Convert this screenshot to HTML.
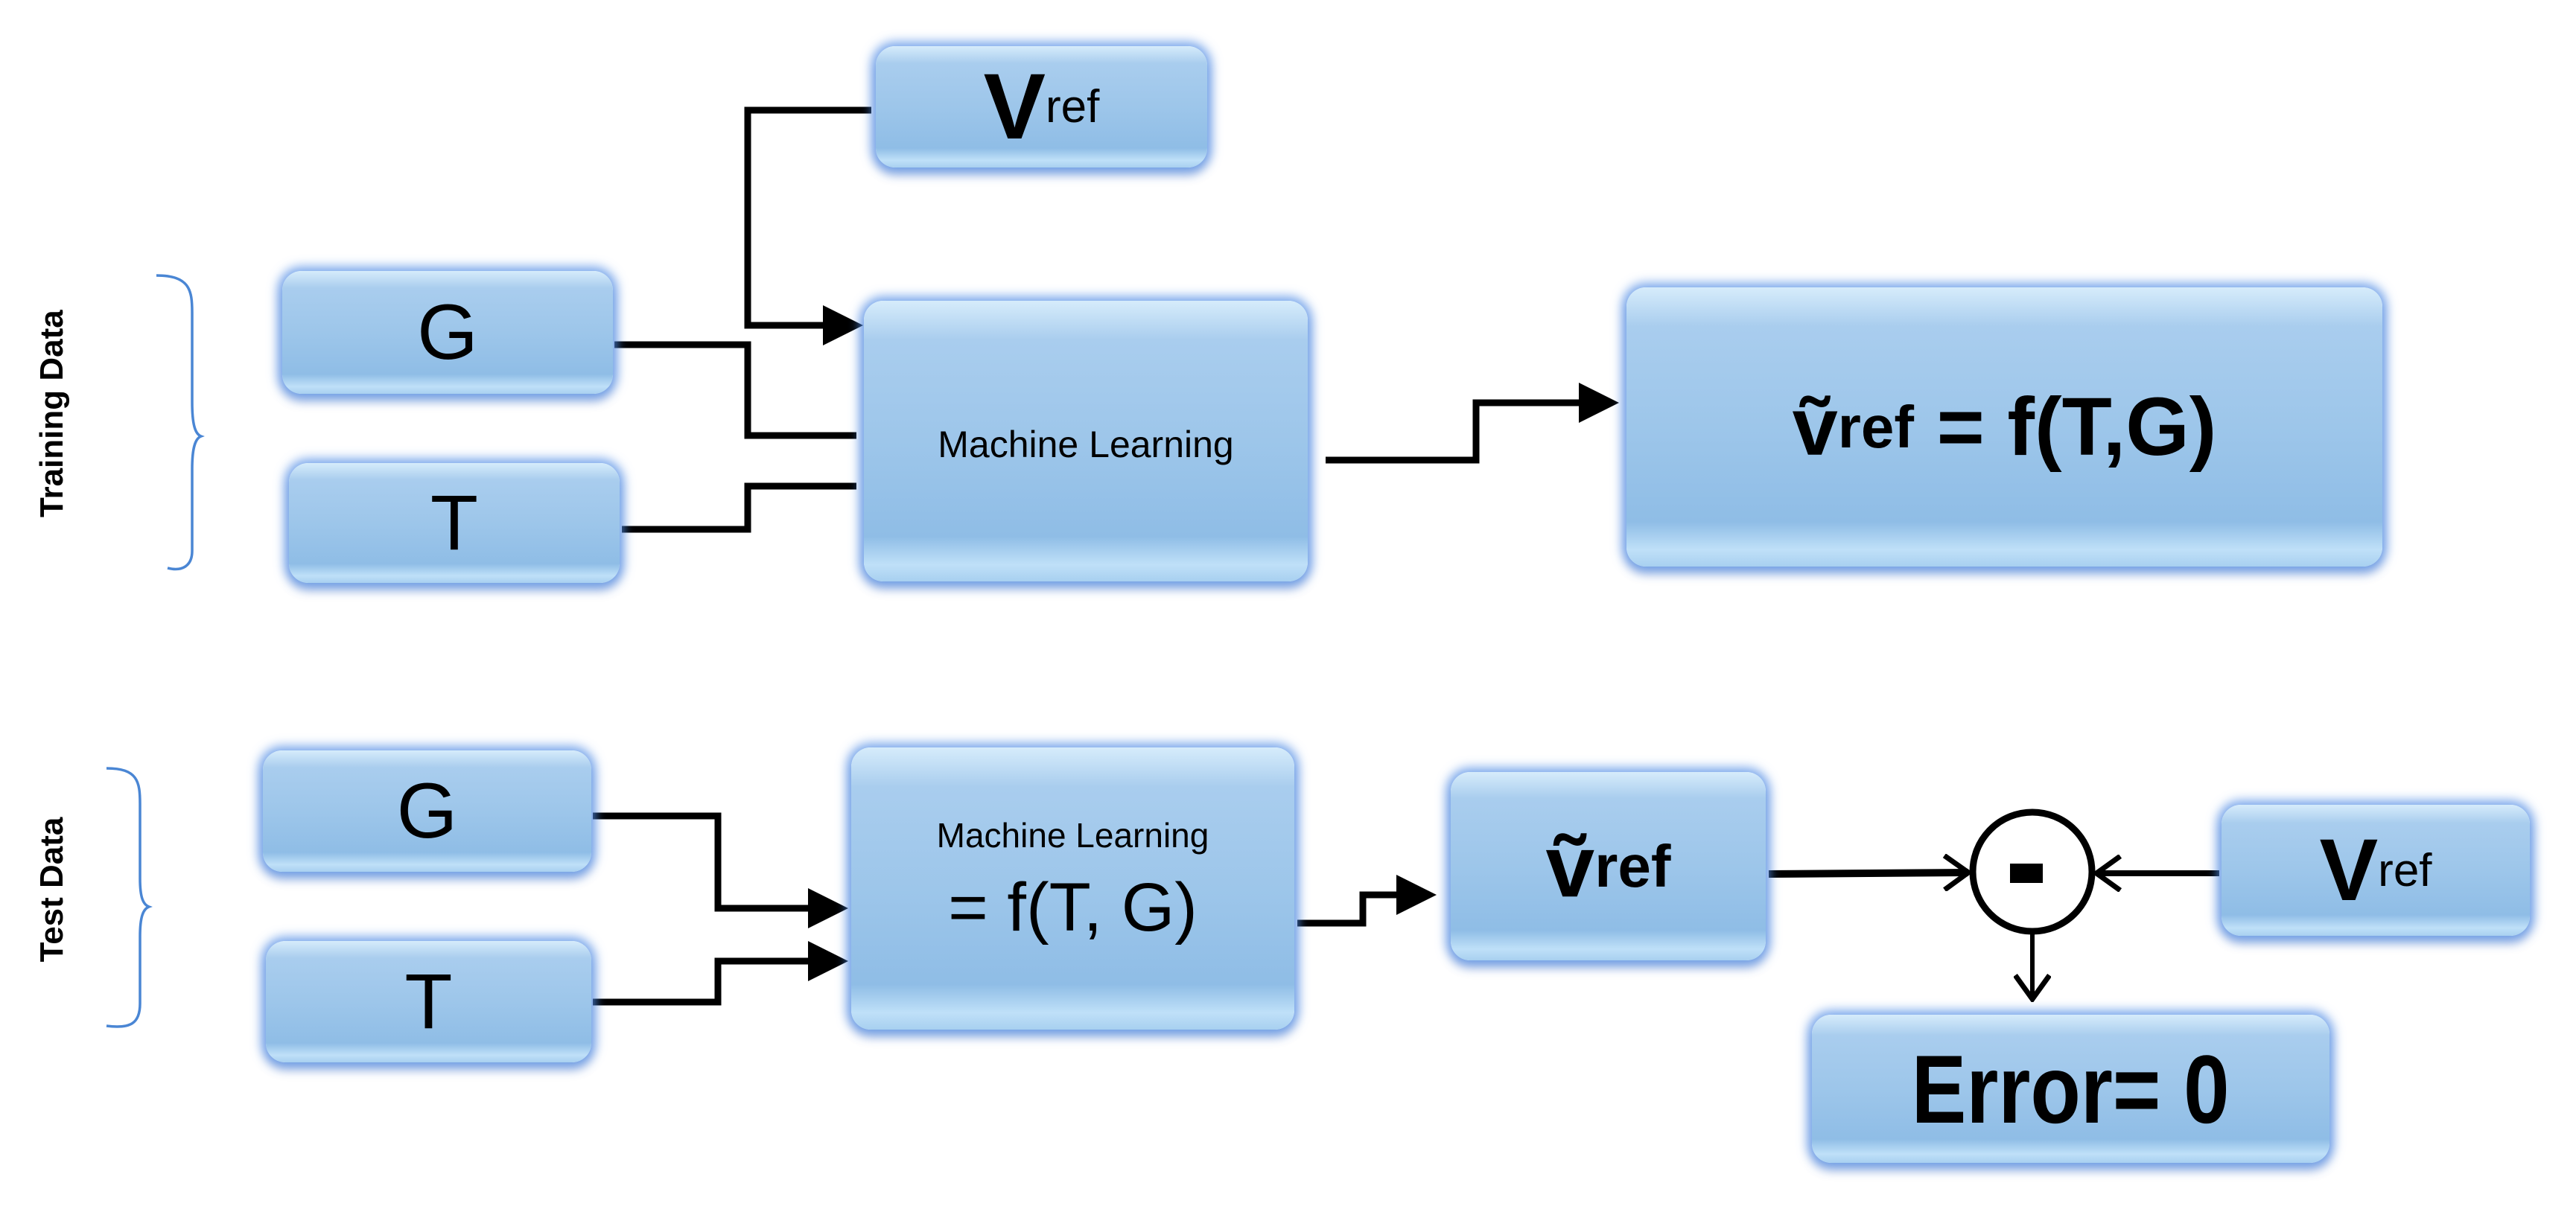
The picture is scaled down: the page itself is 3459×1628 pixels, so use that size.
<!DOCTYPE html>
<html><head><meta charset="utf-8">
<style>
html,body{margin:0;padding:0;background:#fff;}
#c{position:relative;width:3459px;height:1628px;overflow:hidden;background:#fff;font-family:"Liberation Sans",sans-serif;}
.b{position:absolute;box-sizing:border-box;border-radius:26px;
background:linear-gradient(to bottom,#d6ecfb 0%,#a9cdee 14%,#9dc6ea 50%,#8fbde6 84%,#bfe0f8 94%,#a8d0f0 100%);
box-shadow:0 0 14px 6px rgba(80,140,230,0.75),0 10px 14px rgba(60,100,180,0.35);
display:flex;align-items:center;justify-content:center;color:#000;white-space:nowrap;}
.lbl{position:absolute;font-weight:bold;font-size:44px;transform:rotate(-90deg);transform-origin:center;white-space:nowrap;}
sub{font-size:0.5em;vertical-align:baseline;font-weight:normal;}
svg{position:absolute;left:0;top:0;}
</style></head><body><div id="c">
<svg width="3459" height="1628">
<defs>
<marker id="a" markerWidth="6" markerHeight="6" refX="5" refY="3" orient="auto" markerUnits="strokeWidth"><path d="M0,0 L6,3 L0,6 z" fill="#000"/></marker>
<marker id="o" markerWidth="10" markerHeight="12" refX="9" refY="6" orient="auto" markerUnits="userSpaceOnUse"><path d="M0,0 L9,6 L0,12" fill="none" stroke="#000" stroke-width="2.5"/></marker>
<marker id="o2" markerWidth="40" markerHeight="50" refX="36" refY="25" orient="auto" markerUnits="userSpaceOnUse"><path d="M4,2 L36,25 L4,48" fill="none" stroke="#000" stroke-width="7"/></marker>
</defs>
<g fill="none" stroke="#000" stroke-width="9">
<polyline points="1170,148 1004,148 1004,437 1150,437" marker-end="url(#a)"/>
<polyline points="825,463 1004,463 1004,585 1150,585"/>
<polyline points="835,711 1004,711 1004,653 1150,653"/>
<polyline points="1780,618 1982,618 1982,541 2165,541" marker-end="url(#a)"/>
<polyline points="796,1096 964,1096 964,1220 1130,1220" marker-end="url(#a)"/>
<polyline points="796,1346 964,1346 964,1291 1130,1291" marker-end="url(#a)"/>
<polyline points="1742,1240 1830,1240 1830,1202 1920,1202" marker-end="url(#a)"/>
<line x1="2375" y1="1174" x2="2643" y2="1172" stroke-width="10" marker-end="url(#o2)"/>
<line x1="2980" y1="1173" x2="2815" y2="1173" stroke-width="8" marker-end="url(#o2)"/>
<line x1="2729" y1="1250" x2="2729" y2="1342" stroke-width="6" marker-end="url(#o2)"/>
</g>
<circle cx="2729" cy="1171" r="80" fill="#fff" stroke="#000" stroke-width="9"/>
<rect x="2699" y="1160" width="44" height="26" fill="#000"/>
<g fill="none" stroke="#4a86d4" stroke-width="3.5">
<path d="M210,370 C255,370 258,390 258,420 L258,540 C258,570 262,583 270,586 C262,589 258,602 258,630 L258,740 C258,760 245,768 225,763"/>
<path d="M143,1032 C185,1032 188,1050 188,1080 L188,1180 C188,1205 192,1215 200,1218 C192,1221 188,1232 188,1258 L188,1348 C188,1375 175,1382 143,1378"/>
</g>
</svg>
<div class="lbl" style="left:-55px;top:545px;width:250px;text-align:center;">Training Data</div>
<div class="lbl" style="left:-30px;top:1170px;width:200px;text-align:center;">Test Data</div>

<div class="b" style="left:1176px;top:62px;width:445px;height:163px;font-size:125px;font-weight:bold;">V<sub style="font-size:62px">ref</sub></div>
<div class="b" style="left:379px;top:364px;width:444px;height:165px;font-size:105px;">G</div>
<div class="b" style="left:388px;top:622px;width:444px;height:161px;font-size:105px;">T</div>
<div class="b" style="left:1160px;top:404px;width:596px;height:377px;font-size:50px;padding-top:8px;">Machine Learning</div>
<div class="b" style="left:2184px;top:386px;width:1015px;height:375px;font-size:110px;font-weight:bold;">ṽ<sub style="font-size:80px;font-weight:bold">ref</sub>&nbsp;= f(T,G)</div>

<div class="b" style="left:353px;top:1008px;width:441px;height:163px;font-size:105px;">G</div>
<div class="b" style="left:357px;top:1264px;width:437px;height:163px;font-size:105px;">T</div>
<div class="b" style="left:1143px;top:1004px;width:595px;height:379px;flex-direction:column;">
<div style="font-size:46px;margin-top:-20px;">Machine Learning</div>
<div style="font-size:92px;margin-top:18px;">= f(T, G)</div></div>
<div class="b" style="left:1948px;top:1037px;width:423px;height:253px;font-size:118px;font-weight:bold;">ṽ<sub style="font-size:80px;font-weight:bold">ref</sub></div>
<div class="b" style="left:2983px;top:1081px;width:414px;height:176px;font-size:118px;font-weight:bold;">V<sub style="font-size:62px">ref</sub></div>
<div class="b" style="left:2433px;top:1363px;width:695px;height:199px;font-size:130px;font-weight:bold;"><span style="display:inline-block;transform:scaleX(0.85)">Error= 0</span></div>
</div></body></html>
